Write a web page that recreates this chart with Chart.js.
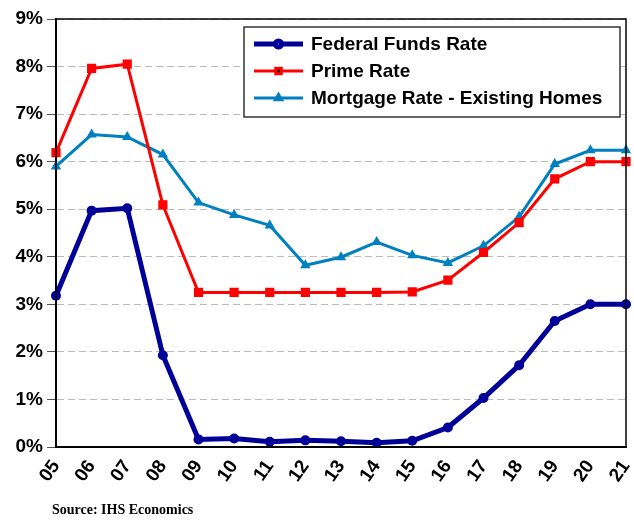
<!DOCTYPE html>
<html>
<head>
<meta charset="utf-8">
<script src="https://cdn.jsdelivr.net/npm/chart.js@4"></script>
<style>
body { margin: 0; background: #fff; }
#wrap { position: relative; width: 634px; height: 520px; }
</style>
</head>
<body>
<div id="wrap"><canvas id="myChart" width="634" height="520"></canvas></div>
<script>
var years = ['05','06','07','08','09','10','11','12','13','14','15','16','17','18','19','20','21'];
var fedFunds = [3.18, 4.97, 5.02, 1.93, 0.16, 0.18, 0.11, 0.14, 0.12, 0.09, 0.13, 0.41, 1.03, 1.72, 2.65, 3.0, 3.0];
var primeRate = [6.19, 7.96, 8.05, 5.09, 3.25, 3.25, 3.25, 3.25, 3.25, 3.25, 3.26, 3.51, 4.09, 4.72, 5.64, 6.0, 6.0];
var mortgageRate = [5.9, 6.57, 6.52, 6.15, 5.14, 4.88, 4.66, 3.82, 3.99, 4.31, 4.03, 3.87, 4.23, 4.84, 5.95, 6.24, 6.24];
var yTicks = [0, 1, 2, 3, 4, 5, 6, 7, 8, 9];

// frame round the plot area + legend box + source
var framePlugin = {
  id: 'frame',
  afterDraw: function(chart) {
    var ctx = chart.ctx, a = chart.chartArea;
    ctx.save();
    ctx.setLineDash([]);
    ctx.strokeStyle = '#000';
    ctx.lineWidth = 1.5;
    ctx.strokeRect(a.left, a.top, a.right - a.left, a.bottom - a.top);

    // legend
    var bx = 244, by = 27, bw = 376, bh = 90;
    ctx.fillStyle = '#fff';
    ctx.fillRect(bx, by, bw, bh);
    ctx.strokeStyle = '#333';
    ctx.lineWidth = 1.5;
    ctx.strokeRect(bx, by, bw, bh);
    var rows = [44, 71, 98];
    chart.data.datasets.forEach(function(ds, i) {
      var y = rows[i];
      ctx.strokeStyle = ds.borderColor;
      ctx.lineWidth = ds.borderWidth;
      ctx.beginPath();
      ctx.moveTo(254, y);
      ctx.lineTo(303, y);
      ctx.stroke();
      Chart.helpers.drawPoint(ctx, {
        pointStyle: ds.pointStyle,
        radius: ds.pointRadius * 0.6,
        borderWidth: 1
      }, 278.5, y);
      ctx.fillStyle = '#000';
      ctx.font = 'bold 19px "Liberation Sans", Arial, sans-serif';
      ctx.textBaseline = 'middle';
      ctx.textAlign = 'left';
      ctx.fillText(ds.label, 311, y + 1);
    });

    // source line
    ctx.fillStyle = '#000';
    ctx.font = 'bold 14px "Liberation Serif", "Times New Roman", serif';
    ctx.textBaseline = 'middle';
    ctx.fillText('Source: IHS Economics', 52, 510);
    ctx.restore();
  }
};

var ctx = document.getElementById('myChart').getContext('2d');
var chart = new Chart(ctx, {
  type: 'line',
  data: {
    labels: years,
    datasets: [{
      label: 'Federal Funds Rate',
      data: fedFunds,
      borderColor: '#000099',
      backgroundColor: '#000099',
      borderWidth: 5,
      pointStyle: 'circle',
      pointRadius: 5,
      pointBorderWidth: 0
    }, {
      label: 'Prime Rate',
      data: primeRate,
      borderColor: '#ff0000',
      backgroundColor: '#ff0000',
      borderWidth: 3,
      pointStyle: 'rect',
      pointRadius: 6.5,
      pointBorderWidth: 0
    }, {
      label: 'Mortgage Rate - Existing Homes',
      data: mortgageRate,
      borderColor: '#0080c0',
      backgroundColor: '#0080c0',
      borderWidth: 3,
      pointStyle: 'triangle',
      pointRadius: 6,
      pointBorderWidth: 0
    }]
  },
  options: {
    responsive: false,
    animation: false,
    layout: { padding: { left: 0, right: 8, top: 19, bottom: 0 } },
    plugins: {
      legend: { display: false },
      tooltip: { enabled: false }
    },
    elements: { line: { tension: 0 } },
    scales: {
      x: {
        offset: false,
        grid: { display: false, drawTicks: false },
        border: { color: '#000', width: 2 },
        ticks: {
          color: '#000',
          font: { family: '"Liberation Sans", Arial, sans-serif', size: 19, weight: 'bold' },
          minRotation: 55,
          maxRotation: 55,
          autoSkip: false,
          padding: 9
        },
        afterFit: function(scale) {
          scale.height = 73;
          scale.paddingLeft = 0;
          scale.paddingRight = 0;
        }
      },
      y: {
        min: 0,
        max: 9,
        afterBuildTicks: function(scale) {
          scale.ticks = yTicks.map(function(v) { return { value: v }; });
        },
        grid: {
          color: '#bbbbbb',
          lineWidth: 1,
          tickColor: '#555',
          tickLength: 9,
          tickBorderDash: []
        },
        border: { color: '#000', width: 2, dash: [7, 4] },
        ticks: {
          color: '#000',
          padding: 4,
          font: { family: '"Liberation Sans", Arial, sans-serif', size: 19, weight: 'bold' },
          callback: function(v) { return v + '%'; }
        },
        afterFit: function(scale) { scale.width = 56; }
      }
    }
  },
  plugins: [framePlugin]
});
</script>
</body>
</html>
